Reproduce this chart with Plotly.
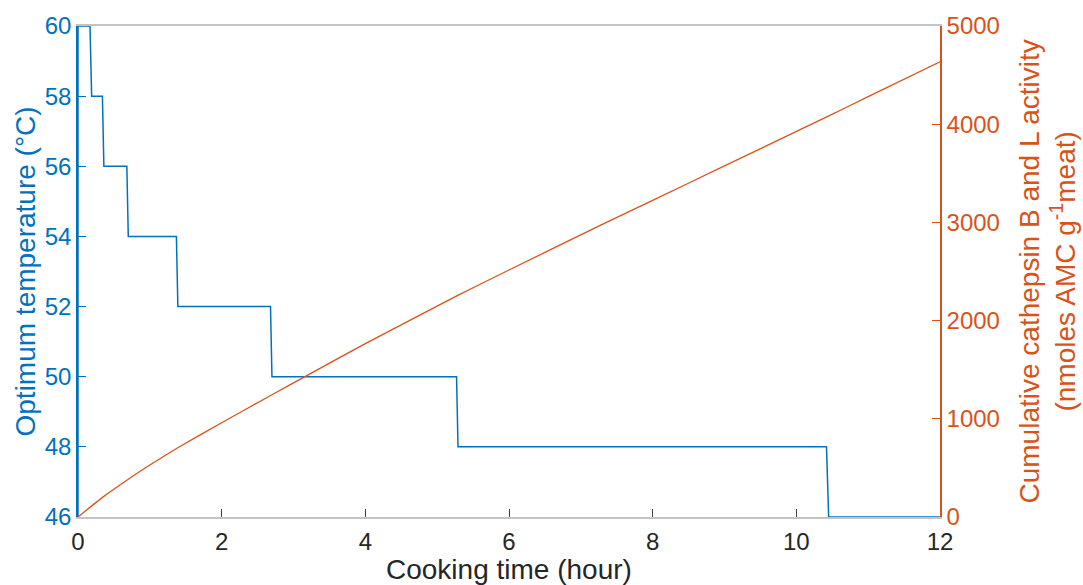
import plotly.graph_objects as go

# Optimum temperature step profile (hours, °C)
temp_time = [0, 0, 0.167, 0.19, 0.34, 0.36, 0.68, 0.70, 1.37, 1.39, 2.68, 2.70, 5.27, 5.29, 10.42, 10.45, 12]
temp_vals = [46, 60, 60, 58, 58, 56, 56, 54, 54, 52, 52, 50, 50, 48, 48, 46, 46]

# Cumulative cathepsin B and L activity
act_time = [0, 0.35, 0.7, 1.0, 1.4, 2.0, 2.7, 3.16, 4.0, 5.28, 6.0, 7.27, 8.0, 9.0, 10.43, 11.0, 12]
act_vals = [0, 205, 385, 530, 710, 960, 1245, 1430, 1765, 2255, 2515, 2970, 3225, 3575, 4077, 4280, 4635]

x_ticks = [0, 2, 4, 6, 8, 10, 12]
left_ticks = [46, 48, 50, 52, 54, 56, 58, 60]
right_ticks = [0, 1000, 2000, 3000, 4000, 5000]

BLUE = "#0072BD"
ORANGE = "#D95319"
DARK = "#262626"
FONT = "Liberation Sans, Arial, sans-serif"
TICK = 24
LAB = 28

fig = go.Figure()
fig.add_trace(go.Scatter(x=temp_time, y=temp_vals, mode="lines",
                         line=dict(color=BLUE, width=1.5), yaxis="y", showlegend=False))
fig.add_trace(go.Scatter(x=act_time, y=act_vals, mode="lines",
                         line=dict(color=ORANGE, width=1.3, shape="spline", smoothing=0.4),
                         yaxis="y2", showlegend=False))

fig.update_layout(
    width=1083, height=585,
    margin=dict(l=78, r=143, t=24, b=68),
    paper_bgcolor="white", plot_bgcolor="white",
    font=dict(family=FONT, size=TICK, color=DARK),
    xaxis=dict(range=[0, 12], tickvals=x_ticks, ticks="inside", ticklen=8,
               tickcolor="#404040", showline=True, linecolor="#c4c4c4", linewidth=1.5,
               mirror=True, showgrid=False, zeroline=False, ticklabelstandoff=2,
               tickfont=dict(size=TICK, color=DARK)),
    yaxis=dict(range=[46, 60], tickvals=left_ticks, ticks="inside", ticklen=8,
               tickcolor=BLUE, showline=True, linecolor=BLUE, linewidth=1.5,
               showgrid=False, zeroline=False,
               tickfont=dict(size=TICK, color=BLUE)),
    yaxis2=dict(range=[0, 5000], tickvals=right_ticks, ticks="inside", ticklen=8,
                tickcolor=ORANGE, showline=True, linecolor=ORANGE, linewidth=1.5,
                showgrid=False, zeroline=False, overlaying="y", side="right",
                tickfont=dict(size=TICK, color=ORANGE)),
    yaxis3=dict(range=[46, 60], tickvals=left_ticks, ticks="inside", ticklen=8,
                tickcolor=BLUE, showline=False, showgrid=False, zeroline=False,
                showticklabels=False, overlaying="y", side="right"),
    annotations=[
        dict(text="Cooking time (hour)", xref="paper", yref="paper", x=0.5, y=0,
             xanchor="center", yanchor="middle", yshift=-52, showarrow=False,
             font=dict(size=LAB, color=DARK)),
        dict(text="Optimum temperature (°C)", xref="paper", yref="paper", x=0, y=0.5,
             xanchor="center", yanchor="middle", xshift=-53, textangle=-90, showarrow=False,
             font=dict(size=LAB, color=BLUE)),
        dict(text="Cumulative cathepsin B and L activity<br>(nmoles AMC g<sup>-1</sup>meat)",
             xref="paper", yref="paper", x=1, y=0.5, xanchor="center", yanchor="middle",
             xshift=107, textangle=-90, showarrow=False,
             font=dict(size=LAB, color=ORANGE)),
    ],
)

fig.write_html("out.html")
